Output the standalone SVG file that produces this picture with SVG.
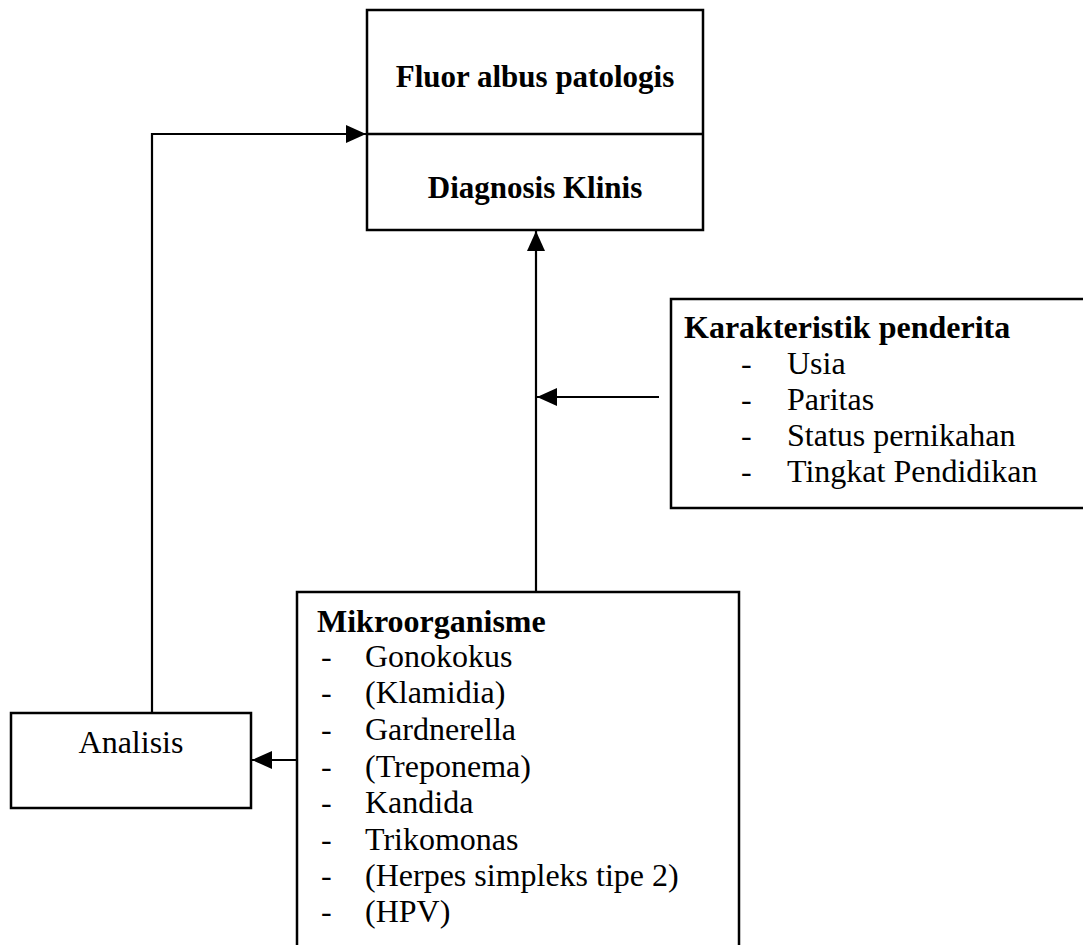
<svg xmlns="http://www.w3.org/2000/svg" width="1083" height="945" viewBox="0 0 1083 945">
<style>
.box{fill:#fff;stroke:#000;stroke-width:2.5}
.ln{fill:none;stroke:#000;stroke-width:2.2}
.b{font-family:"Liberation Serif","Times New Roman",serif;font-weight:bold;fill:#000}
.r{font-family:"Liberation Serif","Times New Roman",serif;fill:#000}
</style>
<defs>
<marker id="ah" viewBox="0 0 20 18" refX="20" refY="9" markerWidth="20" markerHeight="18" markerUnits="userSpaceOnUse" orient="auto">
<path d="M0,0 L20,9 L0,18 Z" fill="#000"/>
</marker>
</defs>
<rect width="1083" height="945" fill="#fff"/>
<g id="connectors">
<polyline class="ln" points="152,712 152,134 366,134" marker-end="url(#ah)"/>
<line class="ln" x1="536" y1="592" x2="536" y2="231" marker-end="url(#ah)"/>
<line class="ln" x1="659" y1="397" x2="537" y2="397" marker-end="url(#ah)"/>
<line class="ln" x1="297" y1="760" x2="252" y2="760" marker-end="url(#ah)"/>
</g>
<g id="node-fluor">
<rect class="box" x="367" y="10" width="336" height="220"/>
<line x1="367" y1="134" x2="703" y2="134" stroke="#000" stroke-width="2.5"/>
<text class="b" x="535" y="87" font-size="31" text-anchor="middle">Fluor albus patologis</text>
<text class="b" x="535" y="198" font-size="31" text-anchor="middle">Diagnosis Klinis</text>
</g>
<g id="node-karakteristik">
<rect class="box" x="671" y="299" width="430" height="209"/>
<text class="b" x="684" y="338" font-size="32">Karakteristik penderita</text>
<g class="r" font-size="32">
<text x="741" y="374">-</text><text x="787" y="374">Usia</text>
<text x="741" y="410">-</text><text x="787" y="410">Paritas</text>
<text x="741" y="446">-</text><text x="787" y="446">Status pernikahan</text>
<text x="741" y="482">-</text><text x="787" y="482">Tingkat Pendidikan</text>
</g>
</g>
<g id="node-analisis">
<rect class="box" x="11" y="713" width="240" height="95"/>
<text class="r" x="131" y="753" font-size="32" text-anchor="middle">Analisis</text>
</g>
<g id="node-mikro">
<rect class="box" x="297" y="592" width="442" height="380"/>
<text class="b" x="317" y="632" font-size="32">Mikroorganisme</text>
<g class="r" font-size="32">
<text x="321" y="667">-</text><text x="365" y="667">Gonokokus</text>
<text x="321" y="703">-</text><text x="365" y="703">(Klamidia)</text>
<text x="321" y="740">-</text><text x="365" y="740">Gardnerella</text>
<text x="321" y="777">-</text><text x="365" y="777">(Treponema)</text>
<text x="321" y="813">-</text><text x="365" y="813">Kandida</text>
<text x="321" y="850">-</text><text x="365" y="850">Trikomonas</text>
<text x="321" y="886">-</text><text x="365" y="886">(Herpes simpleks tipe 2)</text>
<text x="321" y="922">-</text><text x="365" y="922">(HPV)</text>
</g>
</g>
</svg>
